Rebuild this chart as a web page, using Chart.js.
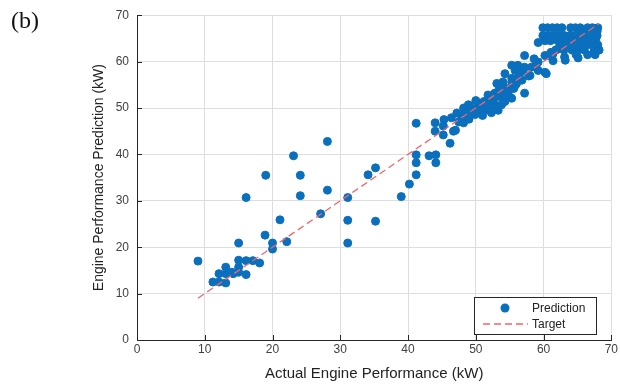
<!DOCTYPE html>
<html>
<head>
<meta charset="utf-8">
<script src="https://cdn.jsdelivr.net/npm/chart.js@4/dist/chart.umd.min.js"></script>
<style>
  html, body { margin: 0; padding: 0; background: #fff; }
  #wrap { position: relative; width: 620px; height: 385px; }
  #tag { position: absolute; left: 11px; top: 7px; font-family: "Liberation Serif", "DejaVu Serif", serif; font-size: 24px; color: #111; }
</style>
</head>
<body>
<div id="wrap">
  <canvas id="chart" width="620" height="385"></canvas>
  <div id="tag">(b)</div>
</div>
<script>
// --- Actual vs predicted engine performance ---

const axisTicks = [0, 10, 20, 30, 40, 50, 60, 70];

// Prediction points (actual kW, predicted kW)
const actualKW = [
  9.0,
  11.2, 12.1, 13.1, 12.1, 13.1, 14.2, 13.1, 14.0, 15.0, 15.0, 15.0, 16.1, 16.1, 17.1, 18.1,
  15.0, 16.1, 19.0, 18.9, 20.0, 20.0, 21.1, 22.1, 23.1, 24.1, 24.1, 27.1, 28.1, 28.1,
  31.1, 31.1, 31.1, 34.1, 35.2, 35.2,
  39.0, 40.2, 41.2, 41.2, 41.2, 41.2, 43.1, 44.1, 44.1, 44.0, 44.0,
  45.2, 45.2, 45.3, 46.4, 46.2, 46.7, 47.0, 47.2, 47.9, 48.2, 48.2, 48.4,
  48.9, 49.1, 49.9, 50.1, 50.8, 50.8, 51.8, 51.8, 52.3, 52.8, 52.8, 53.3, 53.8, 54.3,
  51.2, 51.8, 52.3, 52.8, 53.3, 53.8, 54.8, 54.8, 55.3, 57.2, 52.0, 50.5, 49.5,
  53.1, 54.0, 55.3, 55.3, 55.8, 56.2, 54.3, 55.8, 57.0, 53.5, 56.5, 58.0,
  55.3, 56.2, 57.2, 57.2, 58.2, 58.9, 59.2, 59.2, 60.2, 60.4, 61.4,
  60.2, 60.6, 61.1, 61.4, 62.1, 63.1, 59.2,
  59.9, 60.6, 61.3, 62.0, 62.7, 64.0, 64.7, 65.4, 66.5, 67.2, 68.0,
  65.5, 66.3, 67.1, 67.9,
  59.9, 60.7, 61.5, 62.3, 63.1, 63.9, 64.7, 65.5, 66.3, 67.1, 67.9,
  60.2, 61.0, 62.1, 63.2, 64.3, 65.3, 66.1, 66.9, 67.7,
  62.5, 63.5, 64.6, 65.6, 66.4, 67.2, 68.0,
  61.8, 63.0, 64.2, 65.1, 66.0, 67.5, 68.2,
  64.8, 66.5, 67.6, 65.1, 63.2,
  49.5, 50.4, 51.4, 52.6, 53.6, 54.6, 55.6, 56.8, 57.8, 50.0, 51.0, 56.0, 58.6, 47.5, 49.0
];
const predictedKW = [
  17.0,
  12.5, 12.5, 12.3, 14.3, 14.3, 14.3, 15.7, 14.6, 14.6, 15.7, 17.2, 14.1, 17.1, 17.1, 16.6,
  20.9, 30.7, 35.5, 22.6, 20.9, 19.6, 25.9, 21.2, 39.7, 35.5, 31.1, 27.2, 42.8, 32.3,
  30.7, 25.8, 20.9, 35.6, 37.1, 25.6,
  30.9, 33.6, 35.6, 38.2, 39.9, 46.7, 39.7, 39.9, 38.2, 46.8, 45.0,
  44.2, 46.1, 47.5, 47.9, 42.4, 45.0, 45.2, 48.9, 48.2, 46.8, 50.0, 48.9,
  50.7, 50.4, 48.6, 50.0, 49.3, 49.6, 49.6, 50.0, 49.0, 50.0, 50.7, 49.5, 50.7, 51.4,
  51.4, 52.8, 52.1, 53.2, 53.5, 53.2, 52.8, 53.5, 52.1, 53.2, 51.5, 51.0, 49.5,
  55.3, 55.6, 55.6, 56.4, 54.9, 56.4, 57.4, 58.1, 58.1, 54.5, 57.5, 57.0,
  59.2, 59.2, 58.8, 61.3, 58.8, 59.2, 59.9, 58.1, 57.7, 57.4, 60.2,
  61.3, 61.3, 62.0, 61.7, 62.7, 61.0, 64.1,
  67.3, 67.3, 67.3, 67.3, 67.3, 67.3, 67.3, 67.3, 67.3, 67.3, 67.3,
  66.5, 66.5, 66.5, 66.5,
  65.6, 65.6, 65.6, 65.6, 65.6, 65.6, 65.6, 65.6, 65.6, 65.6, 65.6,
  64.5, 64.5, 64.5, 64.5, 64.5, 64.5, 64.5, 64.5, 64.5,
  63.6, 63.6, 63.6, 63.6, 63.6, 63.6, 63.6,
  62.5, 62.5, 62.5, 62.5, 62.5, 62.5, 62.5,
  61.5, 61.5, 61.5, 60.8, 60.3,
  48.8, 49.8, 50.6, 51.8, 52.4, 54.2, 54.2, 56.0, 56.9, 51.6, 48.4, 55.2, 60.6, 47.0, 47.6
];

// Target (ideal) line end points
const targetX = [9, 68.2];
const targetY = [9, 68.2];

const blue = '#0a6fbd';
const targetRed = '#f4646c';
const axisDark = '#262626';
const gridGray = '#dedede';
const tickFont = { family: 'Liberation Sans, Arial, sans-serif', size: 12 };

const predictionPts = actualKW.map((x, i) => ({ x: x, y: predictedKW[i] }));
const targetPts = targetX.map((x, i) => ({ x: x, y: targetY[i] }));

// MATLAB style inward ticks + boxed legend inside the axes
const matlabBits = {
    id: 'matlabBits',
    afterDatasetsDraw(chart) {
        const { ctx, chartArea: a, scales } = chart;
        ctx.save();
        ctx.strokeStyle = axisDark;
        ctx.lineWidth = 1;
        axisTicks.forEach(v => {
            const px = Math.round(scales.x.getPixelForValue(v)) + 0.5;
            ctx.beginPath(); ctx.moveTo(px, a.bottom); ctx.lineTo(px, a.bottom - 5); ctx.stroke();
            const py = Math.round(scales.y.getPixelForValue(v)) + 0.5;
            ctx.beginPath(); ctx.moveTo(a.left, py); ctx.lineTo(a.left + 5, py); ctx.stroke();
        });

        // legend
        const lx = 474.5, ly = 297.5, lw = 122, lh = 37;
        ctx.fillStyle = '#fff';
        ctx.fillRect(lx, ly, lw, lh);
        ctx.strokeStyle = axisDark;
        ctx.strokeRect(lx, ly, lw, lh);

        ctx.fillStyle = blue;
        ctx.beginPath(); ctx.arc(505, 308, 4.5, 0, Math.PI * 2); ctx.fill();

        ctx.strokeStyle = targetRed;
        ctx.lineWidth = 1.3;
        ctx.setLineDash([7, 4]);
        ctx.beginPath(); ctx.moveTo(483, 324); ctx.lineTo(528, 324); ctx.stroke();
        ctx.setLineDash([]);

        ctx.fillStyle = '#222';
        ctx.font = '12px "Liberation Sans", Arial, sans-serif';
        ctx.textBaseline = 'middle';
        ctx.fillText('Prediction', 532, 309);
        ctx.fillText('Target', 532, 325);
        ctx.restore();
    }
};

new Chart(document.getElementById('chart'), {
    type: 'scatter',
    data: {
        datasets: [
            {
                label: 'Target',
                type: 'line',
                data: targetPts,
                borderColor: targetRed,
                borderWidth: 1.3,
                borderDash: [7, 4],
                pointRadius: 0,
                fill: false,
                order: 0
            },
            {
                label: 'Prediction',
                data: predictionPts,
                backgroundColor: blue,
                borderColor: blue,
                borderWidth: 1,
                pointRadius: 4,
                pointHoverRadius: 4,
                order: 1
            }
        ]
    },
    options: {
        responsive: false,
        animation: false,
        events: [],
        layout: { padding: { top: 9, right: 5, left: 0, bottom: 0 } },
        plugins: {
            legend: { display: false },
            tooltip: { enabled: false }
        },
        scales: {
            x: {
                type: 'linear',
                min: 0, max: 70,
                afterFit: s => { s.height = 45; },
                ticks: { stepSize: 10, color: '#404040', font: tickFont, padding: 2, maxRotation: 0 },
                grid: { color: gridGray, drawTicks: false },
                border: { color: axisDark, width: 1 },
                title: {
                    display: true,
                    text: 'Actual Engine Performance (kW)',
                    color: '#222',
                    font: { family: 'Liberation Sans, Arial, sans-serif', size: 15 },
                    padding: { top: 0, bottom: 2 }
                }
            },
            y: {
                type: 'linear',
                min: 0, max: 70,
                afterFit: s => { s.width = 137; },
                ticks: { stepSize: 10, color: '#404040', font: tickFont, padding: 8 },
                grid: { color: gridGray, drawTicks: false },
                border: { color: axisDark, width: 1 },
                title: {
                    display: true,
                    text: 'Engine Performance Prediction (kW)',
                    color: '#222',
                    font: { family: 'Liberation Sans, Arial, sans-serif', size: 14 },
                    padding: { top: 91, bottom: 0 }
                }
            }
        }
    },
    plugins: [matlabBits]
});
</script>
</body>
</html>
